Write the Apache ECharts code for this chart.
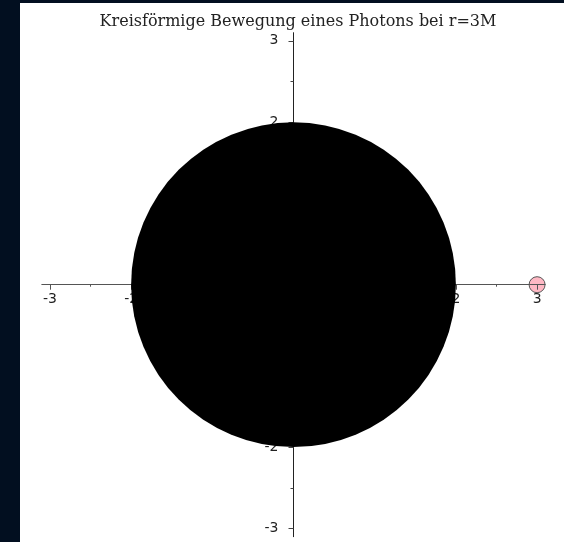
<!DOCTYPE html>
<html>
<head>
<meta charset="utf-8">
<script src="https://cdn.jsdelivr.net/npm/echarts@6/dist/echarts.min.js"></script>
<style>
html,body{margin:0;padding:0;background:#020f20;width:564px;height:542px;overflow:hidden;}
#paper{position:absolute;left:20px;top:3px;width:544px;height:539px;background:#fff;}
#chart{position:absolute;left:0;top:0;width:564px;height:542px;}
</style>
</head>
<body>
<div id="paper"></div>
<div id="chart"></div>
<script>
const titleText = 'Kreisförmige Bewegung eines Photons bei r=3M';
const axisMin = -3.1;
const axisMax = 3.1;
const majorTicks = [-3, -2, -1, 0, 1, 2, 3];
const minorTicks = [-2.5, -1.5, -0.5, 0.5, 1.5, 2.5];
const blackHole = [[0, 0, 2]];   // centre x, centre y, radius
const photon = [[3, 0]];

const fmt = v => String(v);
const labelFont = {fontFamily: 'DejaVu Sans', fontSize: 14, color: '#222'};

// grid geometry (pixels)
const G = {left: 41.8, right: 18.8, top: 32.7, bottom: 5.3};
const gridW = 564 - G.left - G.right, gridH = 542 - G.top - G.bottom;
// axes pass through the origin: shift them from the grid edges to value 0
const xOff = -gridH * (0 - axisMin) / (axisMax - axisMin);
const yOff = -gridW * (0 - axisMin) / (axisMax - axisMin);

const chart = echarts.init(document.getElementById('chart'), null, {renderer: 'canvas'});
chart.setOption({
  animation: false,
  title: {
    text: titleText,
    left: 293, top: 9, textAlign: 'center',
    textStyle: {fontFamily: 'DejaVu Serif', fontSize: 16, fontWeight: 'normal', color: '#222'}
  },
  grid: Object.assign({containLabel: false, outerBoundsMode: 'none'}, G),
  xAxis: {type: 'value', min: axisMin, max: axisMax, z: 3, position: 'bottom', offset: xOff,
     axisLine: {onZero: false, lineStyle: {color: '#555', width: 1}},
     axisTick: {customValues: majorTicks, length: 5, lineStyle: {color: '#555'}},
     minorTick: {show: true, splitNumber: 2, length: 2, lineStyle: {color: '#555'}},
     axisLabel: Object.assign({customValues: majorTicks, formatter: fmt, margin: 8}, labelFont),
     splitLine: {show: false}},
  yAxis: {type: 'value', min: axisMin, max: axisMax, z: 3, position: 'left', offset: yOff,
     axisLine: {onZero: false, lineStyle: {color: '#222', width: 1}},
     axisTick: {customValues: majorTicks, length: 5, lineStyle: {color: '#444'}},
     minorTick: {show: true, splitNumber: 2, length: 3, lineStyle: {color: '#444'}},
     axisLabel: Object.assign({customValues: majorTicks, formatter: fmt, margin: 15}, labelFont),
     splitLine: {show: false}},
  series: [
    {type: 'custom', z: 5, data: blackHole,
     renderItem: function (params, api) {
       const c = api.coord([api.value(0), api.value(1)]);
       const r = api.size([api.value(2), 0])[0];
       return {type: 'circle', shape: {cx: c[0], cy: c[1], r: r}, style: {fill: '#000'}};
     }},
    {type: 'scatter', z: 1, data: photon,
     symbol: 'circle', symbolSize: 16,
     itemStyle: {color: '#ffb8c4', borderColor: '#555', borderWidth: 1, opacity: 1}}
  ]
});
</script>
</body>
</html>
